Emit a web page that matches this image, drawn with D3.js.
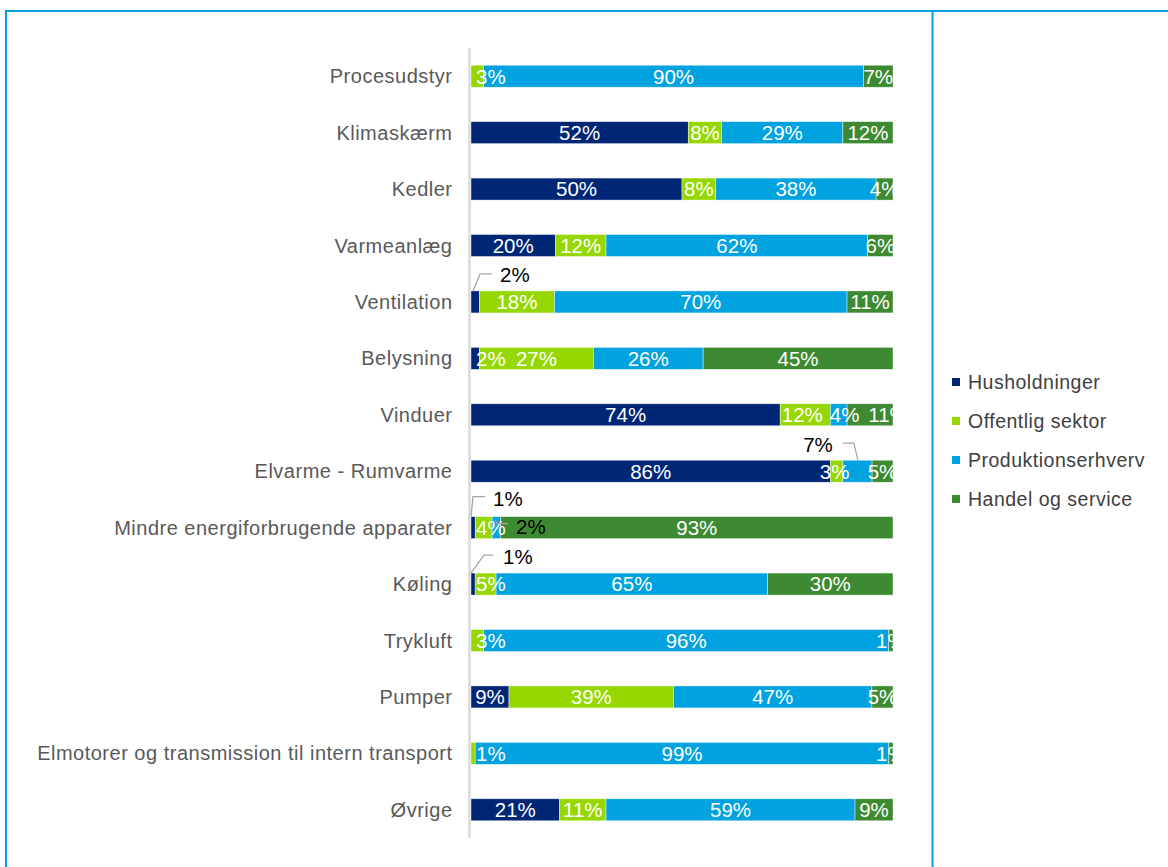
<!DOCTYPE html>
<html>
<head>
<meta charset="utf-8">
<script src="https://cdn.jsdelivr.net/npm/d3@7"></script>
<style>
  html, body { margin: 0; padding: 0; background: #fff; }
  svg { display: block; }
  text { font-family: "Liberation Sans", Arial, sans-serif; }
</style>
</head>
<body>
<svg id="chart" width="1168" height="867"></svg>
<script>
// ---------------- DATA ----------------
const categories = [
  "Procesudstyr", "Klimaskærm", "Kedler", "Varmeanlæg", "Ventilation",
  "Belysning", "Vinduer", "Elvarme - Rumvarme",
  "Mindre energiforbrugende apparater", "Køling", "Trykluft", "Pumper",
  "Elmotorer og transmission til intern transport", "Øvrige"
];
const seriesNames = ["Husholdninger", "Offentlig sektor", "Produktionserhverv", "Handel og service"];
const husholdninger     = [0, 52, 50, 20,  2,  2, 74, 86,  1,  1,  0,  9,  0, 21];
const offentligSektor   = [3,  8,  8, 12, 18, 27, 12,  3,  4,  5,  3, 39,  1, 11];
const produktionserhverv= [90, 29, 38, 62, 70, 26,  4,  7,  2, 65, 96, 47, 99, 59];
const handelOgService   = [7, 12,  4,  6, 11, 45, 11,  5, 93, 30,  1,  5,  1,  9];
const seriesColors = ["#002776", "#97D700", "#00A3E0", "#3E8A32"];

// labels shown as callouts instead of in-bar labels
const callouts = [
  { cat: "Ventilation", series: 0, pts: [[2,0],[9,-17],[21,-17]], tx: 29, ty: -16, anchor: "start" },
  { cat: "Elvarme - Rumvarme", series: 2, pts: [[15,0],[11,-17],[0,-17]], tx: -10, ty: -15, anchor: "end" },
  { cat: "Mindre energiforbrugende apparater", series: 0, pts: [[0,0],[2,-20],[14,-20]], tx: 22, ty: -18, anchor: "start" },
  { cat: "Mindre energiforbrugende apparater", series: 2, pts: [[3,3],[5,7],[16,7]], tx: 24, ty: 10, anchor: "start" },
  { cat: "Køling", series: 0, pts: [[0,0],[13,-18],[22,-18]], tx: 32, ty: -16, anchor: "start" }
];
const labelShift = { "Vinduer|2": 6, "Vinduer|3": 18, "Vinduer|1": -3, "Elvarme - Rumvarme|1": -2 };

// ---------------- BUILD ----------------
const rows = categories.map((c, i) => ({
  cat: c,
  s0: husholdninger[i], s1: offentligSektor[i], s2: produktionserhverv[i], s3: handelOgService[i]
}));
const keys = ["s0", "s1", "s2", "s3"];
const stacked = d3.stack().keys(keys).offset(d3.stackOffsetExpand)(rows);

const svg = d3.select("#chart");

// Frame
const frameColor = "#00A3E0";
svg.append("line").attr("x1", 5).attr("x2", 1168).attr("y1", 11).attr("y2", 11)
  .attr("stroke", frameColor).attr("stroke-width", 2);
svg.append("line").attr("x1", 6).attr("x2", 6).attr("y1", 10).attr("y2", 867)
  .attr("stroke", frameColor).attr("stroke-width", 2);
svg.append("line").attr("x1", 932.5).attr("x2", 932.5).attr("y1", 10).attr("y2", 867)
  .attr("stroke", frameColor).attr("stroke-width", 2);

const x = d3.scaleLinear().domain([0, 1]).range([471, 893]);
const y = d3.scaleBand().domain(categories).range([48, 838]).paddingInner(0.61).paddingOuter(0.305);

// clip
svg.append("defs").append("clipPath").attr("id", "plotclip")
  .append("rect").attr("x", 465).attr("y", 30).attr("width", 893 - 465 + 1).attr("height", 820);

// axis line
svg.append("line").attr("x1", 469.5).attr("x2", 469.5).attr("y1", 48).attr("y2", 838)
  .attr("stroke", "#D9D9D9").attr("stroke-width", 2.5);

// category labels
svg.append("g").selectAll("text").data(categories).join("text")
  .attr("x", 452.5).attr("y", d => y(d) + y.bandwidth() / 2)
  .attr("dy", "0.35em").attr("text-anchor", "end")
  .attr("font-size", 20).attr("letter-spacing", "0.5px")
  .attr("fill", "#595959").text(d => d);

// bars
const gBars = svg.append("g");
stacked.forEach((layer, si) => {
  gBars.append("g").selectAll("rect").data(layer).join("rect")
    .attr("x", d => x(d[0]))
    .attr("y", d => y(d.data.cat))
    .attr("width", d => Math.max(0, x(d[1]) - x(d[0])))
    .attr("height", y.bandwidth())
    .attr("fill", seriesColors[si])
    .attr("stroke", "#ffffff").attr("stroke-width", 0.6).attr("stroke-opacity", 0.7);
});

// in-bar value labels
const gLab = svg.append("g").attr("clip-path", "url(#plotclip)");
const isCallout = (cat, si) => callouts.some(c => c.cat === cat && c.series === si);
stacked.forEach((layer, si) => {
  layer.forEach(d => {
    const v = d.data[keys[si]];
    if (!v || isCallout(d.data.cat, si)) return;
    const label = v + "%";
    const t = gLab.append("text")
      .attr("y", y(d.data.cat) + y.bandwidth() / 2)
      .attr("dy", "0.36em").attr("text-anchor", "middle")
      .attr("font-size", 20.5).attr("fill", "#ffffff").text(label);
    let cx = (x(d[0]) + x(d[1])) / 2;
    const w = t.node().getComputedTextLength();
    if (cx - w / 2 < 471) cx = 476 + w / 2;
    cx += labelShift[d.data.cat + "|" + si] || 0;
    t.attr("x", cx);
  });
});

// callouts
const gCall = svg.append("g");
callouts.forEach(c => {
  const idx = categories.indexOf(c.cat);
  const seg = stacked[c.series][idx];
  const x0 = x(seg[0]);
  const top = y(c.cat);
  const v = rows[idx][keys[c.series]];
  gCall.append("path")
    .attr("d", d3.line()(c.pts.map(p => [x0 + p[0], top + p[1]])))
    .attr("fill", "none").attr("stroke", "#A6A6A6").attr("stroke-width", 1.3);
  gCall.append("text")
    .attr("x", x0 + c.tx).attr("y", top + c.ty).attr("dy", "0.35em")
    .attr("text-anchor", c.anchor).attr("font-size", 20.5).attr("fill", "#000")
    .text(v + "%");
});

// legend
const lg = svg.append("g");
seriesNames.forEach((name, i) => {
  const ly = 382 + 39 * i;
  lg.append("rect").attr("x", 952).attr("y", ly - 4).attr("width", 8).attr("height", 8)
    .attr("fill", seriesColors[i]);
  lg.append("text").attr("x", 968).attr("y", ly).attr("dy", "0.35em")
    .attr("font-size", 19.5).attr("letter-spacing", "0.5px")
    .attr("fill", "#404040").text(name);
});
</script>
</body>
</html>
